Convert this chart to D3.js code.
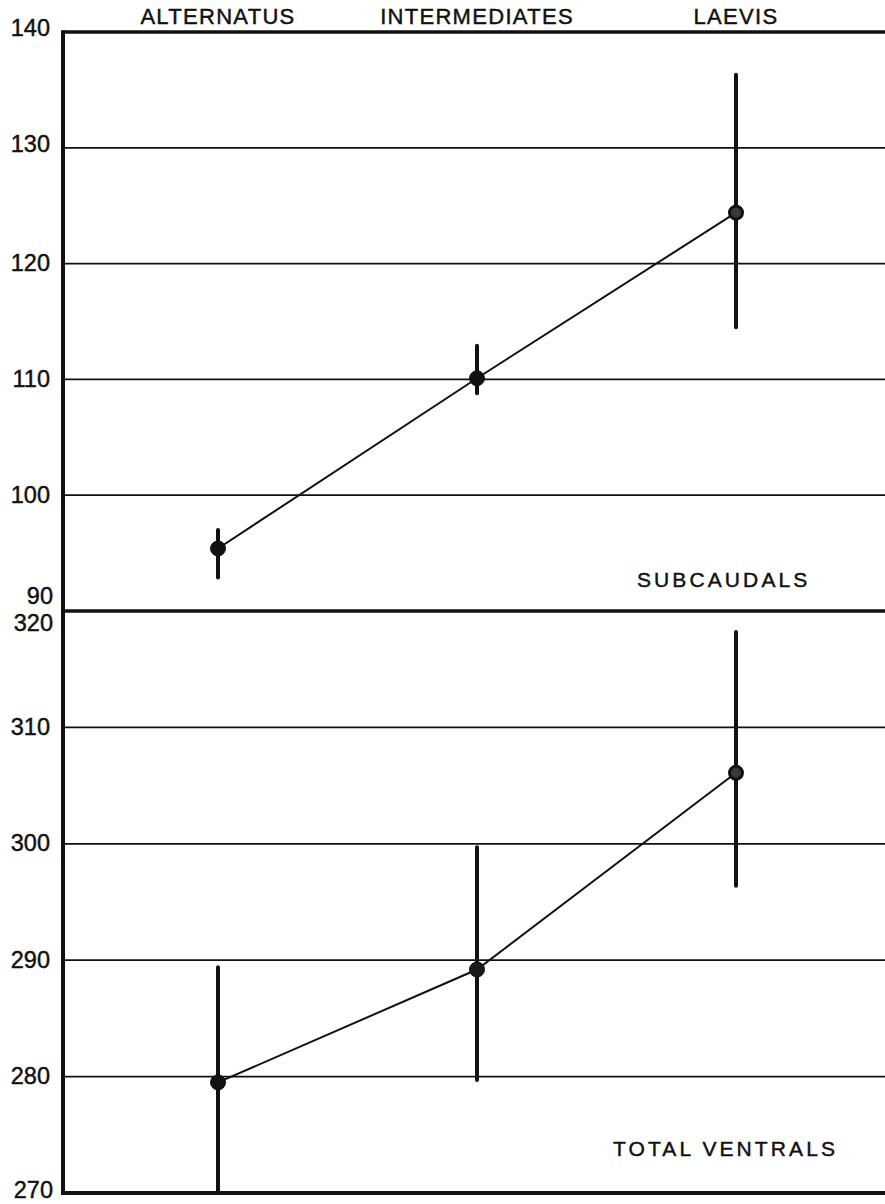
<!DOCTYPE html>
<html>
<head>
<meta charset="utf-8">
<script src="https://cdn.jsdelivr.net/npm/d3@7"></script>
<style>
  html, body { margin: 0; padding: 0; background: #fff; }
  svg { display: block; }
  text { font-family: "Liberation Sans", Arial, sans-serif; fill: #111; stroke: #111; stroke-width: 0.45px; }
</style>
</head>
<body>
<svg id="chart" width="885" height="1204"></svg>
<script>
// Group names along the top
const categories = ["ALTERNATUS", "INTERMEDIATES", "LAEVIS"];

// Subcaudal counts: mean and range for each group
const subcaudalMean = [95.4, 110.1, 124.4];
const subcaudalLow  = [92.9, 108.8, 114.5];
const subcaudalHigh = [97.0, 112.9, 136.3];

// Total ventral counts: mean and range for each group
const ventralMean = [279.5, 289.2, 306.1];
const ventralLow  = [270.0, 279.7, 296.4];
const ventralHigh = [289.4, 299.7, 318.2];

// Axis ticks for each panel
const subcaudalTicks = [90, 100, 110, 120, 130, 140];
const ventralTicks   = [270, 280, 290, 300, 310, 320];

const svg = d3.select("#chart");
const left = 63, right = 885;
const topY = 32, midY = 611, bottomY = 1193;

const x = d3.scalePoint().domain(categories).range([218, 736]);

const panels = [
  { name: "SUBCAUDALS", mean: subcaudalMean, low: subcaudalLow, high: subcaudalHigh,
    ticks: subcaudalTicks, y: d3.scaleLinear().domain([90, 140]).range([midY, topY]),
    labelX: 637, labelY: 587, dots: ["#111", "#111", "#3a3a3a"] },
  { name: "TOTAL VENTRALS", mean: ventralMean, low: ventralLow, high: ventralHigh,
    ticks: ventralTicks, y: d3.scaleLinear().domain([270, 320]).range([bottomY, midY]),
    labelX: 613, labelY: 1156, dots: ["#111", "#1a1a1a", "#3a3a3a"] }
];

panels.forEach((p, pi) => {
  const g = svg.append("g");

  // thin horizontal rules at the inner ticks
  const inner = p.ticks.slice(1, -1);
  g.selectAll("line.grid").data(inner).join("line")
    .attr("class", "grid")
    .attr("x1", left).attr("x2", right)
    .attr("y1", d => p.y(d)).attr("y2", d => p.y(d))
    .attr("stroke", "#111").attr("stroke-width", 1.8);

  // tick labels on the left
  const axis = d3.axisLeft(p.y).tickValues(p.ticks).tickSize(0).tickPadding(0)
    .tickFormat(d3.format("d"));
  const ag = g.append("g").attr("transform", `translate(${left - 13},0)`).call(axis);
  ag.select(".domain").remove();
  ag.selectAll("text")
    .style("font-family", "'Liberation Sans', Arial, sans-serif")
    .style("font-size", "23.5px")
    .attr("fill", "#111")
    .attr("dy", d => {
      if (pi === 0 && d === 90) return "-0.3em";
      if (pi === 1 && d === 320) return "0.85em";
      if (pi === 1 && d === 270) return "0.2em";
      if (pi === 0 && (d === 130 || d === 140)) return "0.15em";
      return "0.3em";
    })
    .attr("x", d => (pi === 0 && d === 90) || (pi === 1 && (d === 320 || d === 270)) ? 3 : 0);

  // connecting line through the means
  const line = d3.line().x((d, i) => x(categories[i])).y(d => p.y(d));
  g.append("path").datum(p.mean)
    .attr("d", line)
    .attr("fill", "none").attr("stroke", "#111").attr("stroke-width", 2);

  // range bars
  g.selectAll("line.range").data(categories).join("line")
    .attr("class", "range")
    .attr("x1", d => x(d)).attr("x2", d => x(d))
    .attr("y1", (d, i) => p.y(p.low[i])).attr("y2", (d, i) => p.y(p.high[i]))
    .attr("stroke", "#111").attr("stroke-width", 4).attr("stroke-linecap", "round");

  // mean markers
  g.selectAll("circle.mean").data(categories).join("circle")
    .attr("class", "mean")
    .attr("cx", d => x(d)).attr("cy", (d, i) => p.y(p.mean[i]))
    .attr("r", (d, i) => i === 2 ? 6.5 : 7.5)
    .attr("fill", (d, i) => p.dots[i])
    .attr("stroke", "#111").attr("stroke-width", (d, i) => i === 2 ? 3 : 1);

  // panel title
  g.append("text")
    .attr("x", p.labelX).attr("y", p.labelY)
    .attr("font-size", "21px")
    .attr("letter-spacing", 3.1)
    .text(p.name);
});

// frame: top rule, divider, bottom rule and left axis
svg.append("line").attr("x1", left).attr("x2", right).attr("y1", topY).attr("y2", topY)
  .attr("stroke", "#111").attr("stroke-width", 3.5);
svg.append("line").attr("x1", left).attr("x2", right).attr("y1", midY).attr("y2", midY)
  .attr("stroke", "#111").attr("stroke-width", 3.5);
svg.append("line").attr("x1", left).attr("x2", right).attr("y1", bottomY).attr("y2", bottomY)
  .attr("stroke", "#111").attr("stroke-width", 4);
svg.append("line").attr("x1", left).attr("x2", left).attr("y1", topY - 1.75).attr("y2", bottomY + 2)
  .attr("stroke", "#111").attr("stroke-width", 4);

// group names along the top
svg.selectAll("text.cat").data(categories).join("text")
  .attr("class", "cat")
  .attr("x", d => x(d)).attr("y", 24)
  .attr("text-anchor", "middle")
  .attr("font-size", "22px")
  .attr("letter-spacing", 1.3)
  .text(d => d);
</script>
</body>
</html>
